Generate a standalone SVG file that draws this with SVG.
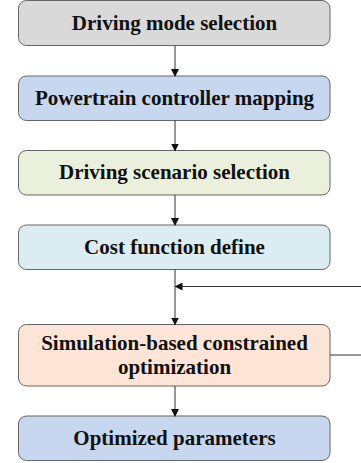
<svg xmlns="http://www.w3.org/2000/svg" width="361" height="463" viewBox="0 0 361 463">
<defs>
<marker id="ah" markerWidth="8" markerHeight="8" refX="7" refY="4" orient="auto" markerUnits="userSpaceOnUse">
<path d="M0,0 L8,4 L0,8 Z" fill="#111"/>
</marker>
<style>
.box{stroke:#666;stroke-width:1}
.t{font-family:"Liberation Serif","Times New Roman",serif;font-weight:bold;font-size:21px;fill:#111;text-anchor:middle}
.c{stroke:#333;stroke-width:1;fill:none}
</style>
</defs>
<rect width="361" height="463" fill="#fff"/>
<g id="n1"><rect class="box" x="18.5" y="0.5" width="311.5" height="45" rx="8" fill="#d9d9d9"/><text class="t" x="174.5" y="30">Driving mode selection</text></g>
<g id="n2"><rect class="box" x="18.5" y="76" width="311.5" height="44.5" rx="8" fill="#c6d7ef"/><text class="t" x="174.5" y="105">Powertrain controller mapping</text></g>
<g id="n3"><rect class="box" x="18.5" y="150.5" width="311.5" height="44.5" rx="8" fill="#ebf0dc"/><text class="t" x="174.5" y="179">Driving scenario selection</text></g>
<g id="n4"><rect class="box" x="18.5" y="225" width="311.5" height="44.5" rx="8" fill="#dbedf3"/><text class="t" x="174.5" y="254">Cost function define</text></g>
<g id="n5"><rect class="box" x="18.5" y="324.5" width="311.5" height="61.5" rx="8" fill="#fce4d6"/><text class="t" x="174.5" y="349.5">Simulation-based constrained</text><text class="t" x="174.5" y="374">optimization</text></g>
<g id="n6"><rect class="box" x="18.5" y="416" width="311.5" height="44.5" rx="8" fill="#c6d7ef"/><text class="t" x="174.5" y="445">Optimized parameters</text></g>
<g id="connectors">
<line class="c" x1="175" y1="45.5" x2="175" y2="76" marker-end="url(#ah)"/>
<line class="c" x1="175" y1="120.5" x2="175" y2="150.5" marker-end="url(#ah)"/>
<line class="c" x1="175" y1="195" x2="175" y2="225" marker-end="url(#ah)"/>
<line class="c" x1="175" y1="269.5" x2="175" y2="324.5" marker-end="url(#ah)"/>
<line class="c" x1="175" y1="386" x2="175" y2="416" marker-end="url(#ah)"/>
<polyline class="c" points="330,355 361,355"/>
<line class="c" x1="361" y1="286.5" x2="175.5" y2="286.5" marker-end="url(#ah)"/>
</g>
</svg>
